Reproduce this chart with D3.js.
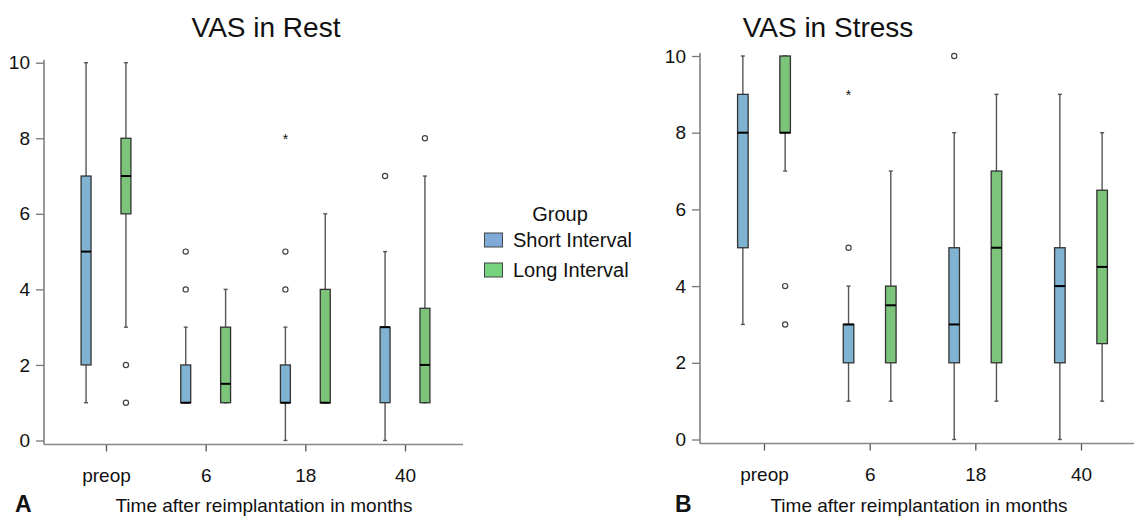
<!DOCTYPE html>
<html>
<head>
<meta charset="utf-8">
<script src="https://cdn.jsdelivr.net/npm/d3@7"></script>
<style>
  body { margin: 0; background: #fff; }
  svg text { font-family: Arial, "Liberation Sans", sans-serif; fill: #111; }
</style>
</head>
<body>
<svg id="chart" width="1134" height="516"></svg>
<script>
// categories and groups
const timepoints = ["preop", "6", "18", "40"];
const groups = ["Short Interval", "Long Interval"];
const yTicks = [0, 2, 4, 6, 8, 10];

// box stats per timepoint: [lower whisker, q1, median, q3, upper whisker]
const restShort = [[1, 2, 5, 7, 10], [1, 1, 1, 2, 3], [0, 1, 1, 2, 3], [0, 1, 3, 3, 5]];
const restLong = [[3, 6, 7, 8, 10], [1, 1, 1.5, 3, 4], [1, 1, 1, 4, 6], [1, 1, 2, 3.5, 7]];
const restShortOut = [[], [4, 5], [4, 5], [7]];
const restLongOut = [[2, 1], [], [], [8]];
const restShortExt = [[], [], [8], []];
const restLongExt = [[], [], [], []];

const stressShort = [[3, 5, 8, 9, 10], [1, 2, 3, 3, 4], [0, 2, 3, 5, 8], [0, 2, 4, 5, 9]];
const stressLong = [[7, 8, 8, 10, 10], [1, 2, 3.5, 4, 7], [1, 2, 5, 7, 9], [1, 2.5, 4.5, 6.5, 8]];
const stressShortOut = [[], [5], [10], []];
const stressLongOut = [[4, 3], [], [], []];
const stressShortExt = [[], [9], [], []];
const stressLongExt = [[], [], [], []];

const colors = ["#7fb3d1", "#7cc47a"];
const legendColors = ["#7fa9d6", "#74d37c"];

const svg = d3.select("#chart");

function drawPanel(opt) {
  const g = svg.append("g");
  const x = d3.scalePoint().domain(timepoints).range([opt.firstCat, opt.lastCat]);
  const step = x.step();
  // two boxes per timepoint, centred about +-0.2 step
  const xg = d3.scaleBand().domain(groups).range([-0.25 * step, 0.25 * step]).paddingInner(0.75).paddingOuter(0);
  const y = d3.scaleLinear().domain([0, 10]).range([opt.y0, opt.y10]);
  const boxW = xg.bandwidth();

  // title
  g.append("text")
    .attr("x", opt.titleX).attr("y", 37)
    .attr("text-anchor", "middle")
    .style("font-size", "28px")
    .text(opt.title);

  // y axis
  const yAxis = g.append("g")
    .attr("transform", `translate(${opt.axisX},0)`)
    .call(d3.axisLeft(y).tickValues(yTicks).tickSize(8).tickSizeOuter(0).tickPadding(6));
  yAxis.select(".domain").remove();
  yAxis.selectAll(".tick line").attr("stroke", "#777").attr("stroke-width", 1.3);
  yAxis.selectAll(".tick text").style("font-size", "19px").attr("fill", "#111");
  g.append("line")
    .attr("x1", opt.axisX).attr("x2", opt.axisX)
    .attr("y1", y(10) - 3).attr("y2", opt.baseY)
    .attr("stroke", "#777").attr("stroke-width", 1.5);

  // x axis
  const xAxis = g.append("g")
    .attr("transform", `translate(0,${opt.baseY})`)
    .call(d3.axisBottom(x).tickSize(7).tickSizeOuter(0).tickPadding(17));
  xAxis.select(".domain").remove();
  xAxis.selectAll(".tick line").attr("stroke", "#555").attr("stroke-width", 1.3);
  xAxis.selectAll(".tick text").style("font-size", "19px").attr("fill", "#111");
  g.append("line")
    .attr("x1", opt.axisX).attr("x2", opt.axisEnd)
    .attr("y1", opt.baseY).attr("y2", opt.baseY)
    .attr("stroke", "#888").attr("stroke-width", 1.5);

  g.append("text")
    .attr("x", opt.xTitleX).attr("y", 512)
    .attr("text-anchor", "middle")
    .style("font-size", "19px")
    .text("Time after reimplantation in months");

  g.append("text")
    .attr("x", opt.letterX).attr("y", 512)
    .style("font-size", "23px").style("font-weight", "bold")
    .text(opt.letter);

  const series = [
    { stats: opt.short, out: opt.shortOut, ext: opt.shortExt, color: colors[0], grp: groups[0] },
    { stats: opt.long, out: opt.longOut, ext: opt.longExt, color: colors[1], grp: groups[1] }
  ];

  series.forEach(function(s) {
    timepoints.forEach(function(t, i) {
      const d = s.stats[i];
      const cx = x(t) + xg(s.grp) + boxW / 2;
      const bg = g.append("g");
      // whiskers
      bg.append("line")
        .attr("x1", cx).attr("x2", cx)
        .attr("y1", y(d[4])).attr("y2", y(d[3]))
        .attr("stroke", "#555").attr("stroke-width", 1.4);
      bg.append("line")
        .attr("x1", cx).attr("x2", cx)
        .attr("y1", y(d[1])).attr("y2", y(d[0]))
        .attr("stroke", "#555").attr("stroke-width", 1.4);
      [d[0], d[4]].forEach(function(v) {
        bg.append("line")
          .attr("x1", cx - 2).attr("x2", cx + 2)
          .attr("y1", y(v)).attr("y2", y(v))
          .attr("stroke", "#555").attr("stroke-width", 1.4);
      });
      // box
      bg.append("rect")
        .attr("x", cx - boxW / 2).attr("width", boxW)
        .attr("y", y(d[3])).attr("height", y(d[1]) - y(d[3]))
        .attr("fill", s.color)
        .attr("stroke", "#333").attr("stroke-width", 1.3);
      bg.append("line")
        .attr("x1", cx - boxW / 2).attr("x2", cx + boxW / 2)
        .attr("y1", y(d[2])).attr("y2", y(d[2]))
        .attr("stroke", "#000").attr("stroke-width", 2);
      // outliers
      s.out[i].forEach(function(v) {
        bg.append("circle")
          .attr("cx", cx).attr("cy", y(v)).attr("r", 2.6)
          .attr("fill", "#fff").attr("stroke", "#444").attr("stroke-width", 1.2);
      });
      s.ext[i].forEach(function(v) {
        bg.append("text")
          .attr("x", cx).attr("y", y(v) + 5.5)
          .attr("text-anchor", "middle")
          .style("font-size", "14px")
          .attr("fill", "#333")
          .text("*");
      });
    });
  });
}

drawPanel({
  title: "VAS in Rest", titleX: 266, letter: "A", letterX: 15,
  axisX: 44, axisEnd: 463, baseY: 444.5, y0: 440.5, y10: 62.7,
  firstCat: 106, lastCat: 405, xTitleX: 264,
  short: restShort, long: restLong,
  shortOut: restShortOut, longOut: restLongOut,
  shortExt: restShortExt, longExt: restLongExt
});

drawPanel({
  title: "VAS in Stress", titleX: 828, letter: "B", letterX: 675,
  axisX: 700, axisEnd: 1134, baseY: 443.5, y0: 439.5, y10: 56,
  firstCat: 764, lastCat: 1081, xTitleX: 919,
  short: stressShort, long: stressLong,
  shortOut: stressShortOut, longOut: stressLongOut,
  shortExt: stressShortExt, longExt: stressLongExt
});

// legend
const legend = svg.append("g").attr("transform", "translate(484,0)");
legend.append("text")
  .attr("x", 76).attr("y", 221)
  .attr("text-anchor", "middle")
  .style("font-size", "20px")
  .text("Group");
groups.forEach(function(grp, i) {
  legend.append("rect")
    .attr("x", 0.5).attr("y", 233 + i * 30)
    .attr("width", 18).attr("height", 14)
    .attr("fill", legendColors[i])
    .attr("stroke", "#444").attr("stroke-width", 1);
  legend.append("text")
    .attr("x", 29).attr("y", 247 + i * 30)
    .style("font-size", "20px")
    .text(grp);
});
</script>
</body>
</html>
